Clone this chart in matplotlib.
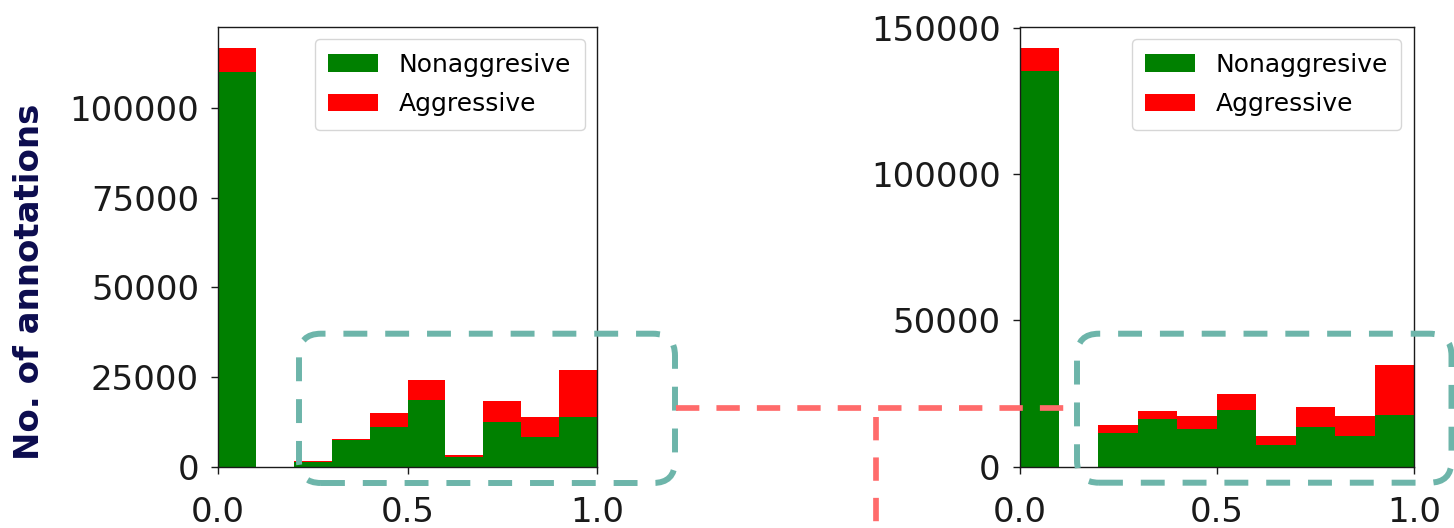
import matplotlib
matplotlib.use('Agg')
import matplotlib.pyplot as plt
from matplotlib.patches import FancyBboxPatch
from matplotlib.lines import Line2D
from matplotlib.transforms import IdentityTransform

# ---- data ----
bin_edges = [0.0, 0.1, 0.2, 0.3, 0.4, 0.5, 0.6, 0.7, 0.8, 0.9, 1.0]
left_nonagg = [110200, 0, 1400, 7500, 11200, 18700, 2800, 12600, 8200, 13800]
left_agg = [6700, 0, 200, 300, 3800, 5600, 500, 5700, 5600, 13100]
right_nonagg = [135300, 0, 11350, 16200, 12800, 19300, 7400, 13600, 10400, 17800]
right_agg = [7900, 0, 3050, 2900, 4600, 5700, 3200, 6800, 7000, 17000]
left_yticks = [0, 25000, 50000, 75000, 100000]
right_yticks = [0, 50000, 100000, 150000]
x_ticks = [0.0, 0.5, 1.0]
x_ticklabels = ['0.0', '0.5', '1.0']
series_labels = ['Nonaggresive', 'Aggressive']
ylabel_text = 'No. of annotations'

W, H = 1454, 528
fig = plt.figure(figsize=(W / 100, H / 100), dpi=100)


def ax_rect(x0, x1, ytop, ybot):
    return [x0 / W, 1 - ybot / H, (x1 - x0) / W, (ybot - ytop) / H]


axL = fig.add_axes(ax_rect(218, 597, 26.7, 466.7))
axR = fig.add_axes(ax_rect(1019.5, 1414, 26.7, 466.7))

lefts = bin_edges[:-1]
widths = [b - a for a, b in zip(bin_edges[:-1], bin_edges[1:])]

for ax, non, agg, yt in [(axL, left_nonagg, left_agg, left_yticks),
                         (axR, right_nonagg, right_agg, right_yticks)]:
    ax.bar(lefts, non, width=widths, align='edge', color='green',
           linewidth=0, label=series_labels[0])
    ax.bar(lefts, agg, width=widths, bottom=non, align='edge', color='red',
           linewidth=0, label=series_labels[1])
    ax.set_xlim(bin_edges[0], bin_edges[-1])
    ax.set_xticks(x_ticks)
    ax.set_xticklabels(x_ticklabels)
    ax.set_yticks(yt)
    ax.tick_params(labelsize=24.5, length=5, width=1, colors='#1a1a1a')
    ax.tick_params(axis='y', pad=8.6)
    ax.tick_params(axis='x', pad=16)
    for s in ax.spines.values():
        s.set_linewidth(1.0)
        s.set_color('#1a1a1a')
    ax.legend(loc='upper right', fontsize=18, borderpad=0.55,
              labelspacing=0.62)

# y label
fig.text(30 / W, 1 - 282 / H, ylabel_text, rotation=90, fontsize=24.5,
         fontweight='bold', color='#0c0c4e', ha='center', va='center',
         family='DejaVu Sans')

# dashed rounded boxes
teal = '#6db5aa'
lw_box = 4.3
for (x0, x1, y0, y1) in [(299, 675, 333.7, 483), (1077, 1451.5, 333.7, 482.7)]:
    p = FancyBboxPatch((x0, H - y1), x1 - x0, y1 - y0,
                       boxstyle='round,pad=0,rounding_size=22',
                       transform=IdentityTransform(), fill=False,
                       edgecolor=teal, linewidth=lw_box,
                       linestyle=(0, (4.0, 3.0)), zorder=10)
    fig.add_artist(p)

# red dashed connectors
red = '#ff6b6b'
fig.add_artist(Line2D([675.7, 1076.7], [H - 408.3, H - 408.3],
                      transform=IdentityTransform(), color=red, lw=4.1,
                      linestyle=(0, (4.1, 3.0)), zorder=11))
fig.add_artist(Line2D([876, 876], [H - 417, 0],
                      transform=IdentityTransform(), color=red, lw=4.1,
                      linestyle=(0, (4.1, 3.0)), zorder=11))

fig.savefig('out.png', dpi=100)
